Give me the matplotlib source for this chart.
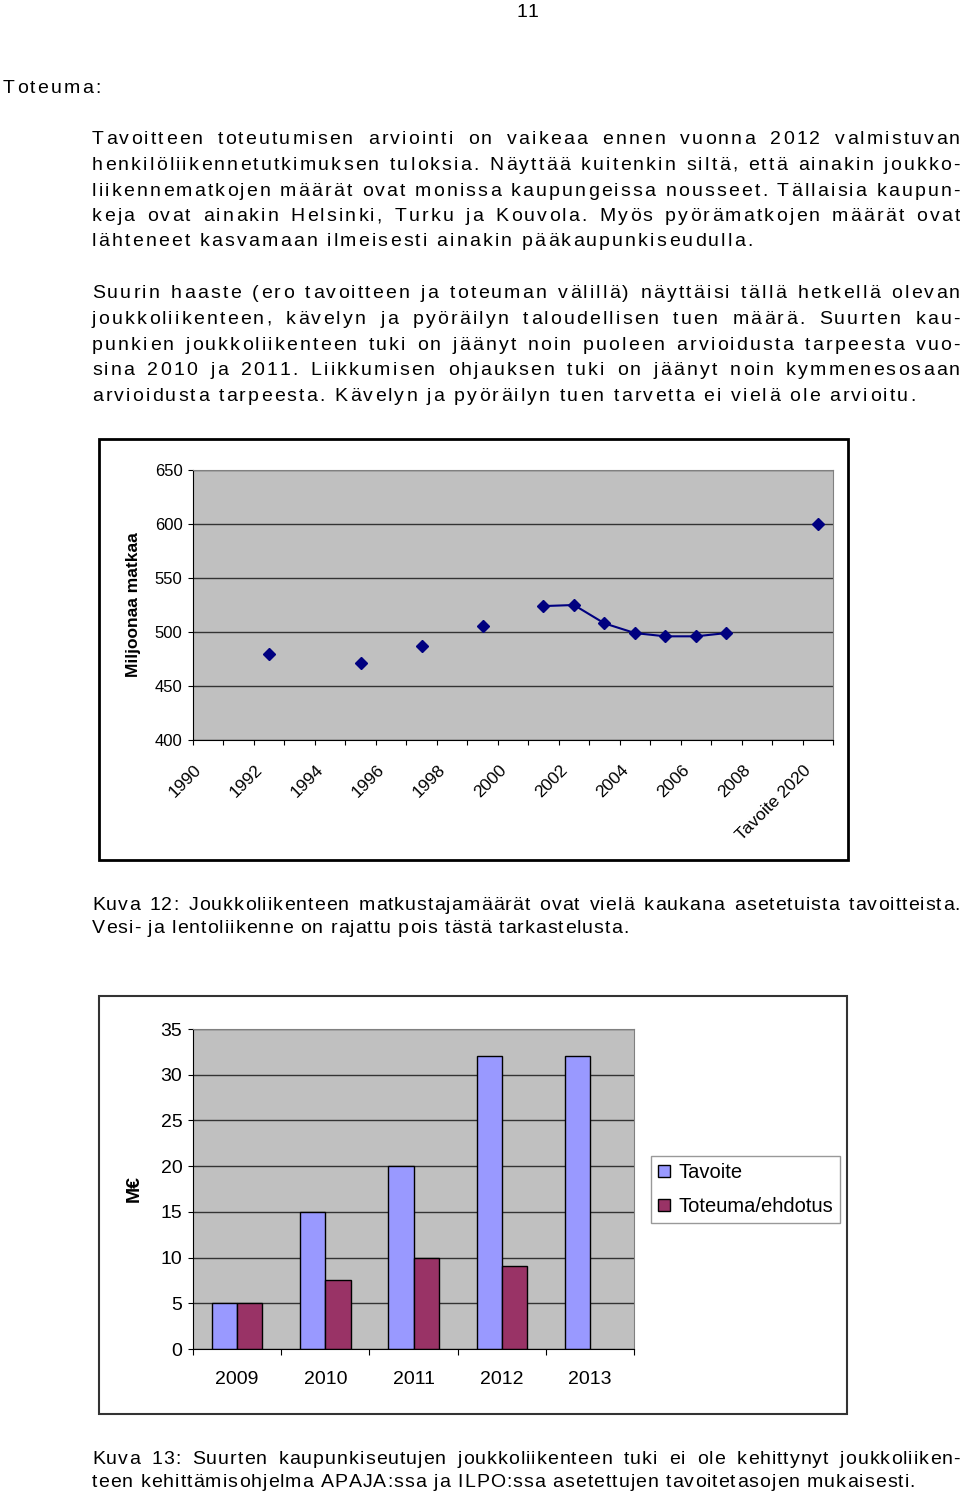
import numpy as np
import matplotlib
matplotlib.use('Agg')
import matplotlib.pyplot as plt
from matplotlib.patches import Rectangle
from matplotlib.transforms import ScaledTranslation

# tiedot
vuodet = [str(v) for v in range(1990, 2010)] + ['Tavoite 2020']
matkat = [np.nan, np.nan, 480, np.nan, np.nan, 471, np.nan, 487, np.nan, 506,
          np.nan, 524, 525, 508, 499, 496, 496, 499, np.nan, np.nan, 600]
tuki_vuodet = ['2009', '2010', '2011', '2012', '2013']
tavoite = [5, 15, 20, 32, 32]
toteuma = [5, 7.6, 10, 9.1, np.nan]

kpl1 = ["Tavoitteen toteutumisen arviointi on vaikeaa ennen vuonna 2012 valmistuvan",
        "henkilöliikennetutkimuksen tuloksia. Näyttää kuitenkin siltä, että ainakin joukko-",
        "liikennematkojen määrät ovat monissa kaupungeissa nousseet. Tällaisia kaupun-",
        "keja ovat ainakin Helsinki, Turku ja Kouvola. Myös pyörämatkojen määrät ovat",
        "lähteneet kasvamaan ilmeisesti ainakin pääkaupunkiseudulla."]
kpl2 = ["Suurin haaste (ero tavoitteen ja toteuman välillä) näyttäisi tällä hetkellä olevan",
        "joukkoliikenteen, kävelyn ja pyöräilyn taloudellisen tuen määrä. Suurten kau-",
        "punkien joukkoliikenteen tuki on jäänyt noin puoleen arvioidusta tarpeesta vuo-",
        "sina 2010 ja 2011. Liikkumisen ohjauksen tuki on jäänyt noin kymmenesosaan",
        "arvioidusta tarpeesta. Kävelyn ja pyöräilyn tuen tarvetta ei vielä ole arvioitu."]
kuva12 = ["Kuva 12: Joukkoliikenteen matkustajamäärät ovat vielä kaukana asetetuista tavoitteista.",
          "Vesi- ja lentoliikenne on rajattu pois tästä tarkastelusta."]
kuva13 = ["Kuva 13: Suurten kaupunkiseutujen joukkoliikenteen tuki ei ole kehittynyt joukkoliiken-",
          "teen kehittämisohjelma APAJA:ssa ja ILPO:ssa asetettujen tavoitetasojen mukaisesti."]

W, H = 960, 1493
plt.rcParams['font.family'] = ['Liberation Sans', 'DejaVu Sans']

fig = plt.figure(figsize=(W / 100, H / 100), dpi=100)
renderer = fig.canvas.get_renderer()


def fx(x):
    return x / W


def fy(y):
    return 1 - y / H


KOKO = 14
lev_cache = {}


def merkin_lev(c):
    if c not in lev_cache:
        t = fig.text(0, 0, 'x' + c + 'x', fontsize=KOKO)
        t2 = fig.text(0, 0, 'xx', fontsize=KOKO)
        lev_cache[c] = t.get_window_extent(renderer).width - t2.get_window_extent(renderer).width
        t.remove()
        t2.remove()
    return lev_cache[c]


def rivi(teksti, x0, x1, y, tasaa=True, vali_k=2.15):
    # harvennettu ja tasattu rivi, merkki kerrallaan (vali_k = kirjainväli px)
    sanat = teksti.split(' ')
    lev = [sum(merkin_lev(c) + vali_k for c in s) for s in sanat]
    if tasaa and len(sanat) > 1:
        vali = (x1 + vali_k - x0 - sum(lev)) / (len(sanat) - 1)
    else:
        vali = merkin_lev(' ') + vali_k
    x = x0
    for s, w in zip(sanat, lev):
        xx = x
        for c in s:
            fig.text(fx(xx), fy(y), c, fontsize=KOKO, va='baseline')
            xx += merkin_lev(c) + vali_k
        x += w + vali


rivi('11', 516, 540, 17, tasaa=False, vali_k=1)
rivi('Toteuma:', 3, 120, 93, tasaa=False)

ys1 = [144.5, 170, 195.5, 221, 246.5]
for i, r in enumerate(kpl1):
    rivi(r, 92, 960, ys1[i], tasaa=(i < len(kpl1) - 1))
ys2 = [298.5, 324, 349.5, 375, 400.5]
for i, r in enumerate(kpl2):
    rivi(r, 92, 960, ys2[i], tasaa=(i < len(kpl2) - 1))
rivi(kuva12[0], 92, 960, 910, vali_k=1.0)
rivi(kuva12[1], 92, 960, 933, tasaa=False, vali_k=1.0)
rivi(kuva13[0], 92, 960, 1464, vali_k=1.0)
rivi(kuva13[1], 92, 960, 1487, tasaa=False, vali_k=1.0)

# kaavioiden kehykset
fig.patches.append(Rectangle((fx(99), fy(860)), fx(749), 421 / H, transform=fig.transFigure,
                             fill=False, edgecolor='black', linewidth=2))
fig.patches.append(Rectangle((fx(99), fy(1414)), fx(748), 418 / H, transform=fig.transFigure,
                             fill=False, edgecolor='#333333', linewidth=1.5))

harmaa = '#C0C0C0'

# Kuva 12
ax1 = fig.add_axes([fx(193), fy(740), fx(640), 270 / H])
ax1.set_facecolor(harmaa)
x = np.arange(len(vuodet))
ax1.plot(x, matkat, color='#000080', marker='D', markersize=6.5, linewidth=1.5)
ax1.set_xlim(-0.5, len(vuodet) - 0.5)
ax1.set_ylim(400, 650)
ax1.set_yticks(range(400, 651, 50))
ax1.yaxis.grid(True, color='#333333', linewidth=1)
ax1.set_axisbelow(True)
ax1.set_xticks(np.arange(-0.5, len(vuodet)), labels=[])
ax1.set_xticks(x[::2], labels=[vuodet[i] for i in x[::2]], minor=True)
ax1.tick_params(axis='x', which='major', length=3.6, color='black', direction='out')
ax1.tick_params(axis='x', which='minor', length=0, pad=20, labelsize=12.5)
ax1.tick_params(axis='y', length=3.6, labelsize=12, pad=4)
siirto = ScaledTranslation(-9 / 100, 0, fig.dpi_scale_trans)
for lab in ax1.get_xticklabels(minor=True):
    lab.set_rotation(45)
    lab.set_ha('right')
    lab.set_va('center')
    lab.set_rotation_mode('anchor')
    lab.set_transform(lab.get_transform() + siirto)
for s in ['top', 'right']:
    ax1.spines[s].set_color('#808080')
ax1.set_ylabel('Miljoonaa matkaa', fontsize=12.5, fontweight='bold')
ax1.yaxis.set_label_coords((141 - 193) / 640, 0.5)

# Kuva 13
ax2 = fig.add_axes([fx(193), fy(1349), fx(441), 320 / H])
ax2.set_facecolor(harmaa)
xb = np.arange(len(tuki_vuodet))
lev = 1 / 3.5
ax2.bar(xb - lev / 2, tavoite, lev, color='#9999FF', edgecolor='black', linewidth=1, label='Tavoite')
ax2.bar(xb + lev / 2, toteuma, lev, color='#993366', edgecolor='black', linewidth=1, label='Toteuma/ehdotus')
ax2.set_xlim(-0.5, len(tuki_vuodet) - 0.5)
ax2.set_ylim(0, 35)
ax2.set_yticks(range(0, 36, 5))
ax2.yaxis.grid(True, color='#333333', linewidth=1)
ax2.set_axisbelow(True)
ax2.set_xticks(np.arange(-0.5, len(tuki_vuodet)), labels=[])
ax2.set_xticks(xb, labels=tuki_vuodet, minor=True)
ax2.tick_params(axis='x', which='major', length=4.5, direction='out')
ax2.tick_params(axis='x', which='minor', length=0, pad=16, labelsize=14)
ax2.tick_params(axis='y', length=3.6, labelsize=14, pad=4)
for s in ['top', 'right']:
    ax2.spines[s].set_color('#808080')
ax2.set_ylabel('M€', fontsize=14, fontweight='bold')
ax2.yaxis.set_label_coords((143 - 193) / 441, 0.5)
leg = ax2.legend(loc='upper left', bbox_to_anchor=((651 - 193) / 441, (1349 - 1156) / 320), fontsize=14.5,
                 frameon=True, fancybox=False, edgecolor='#808080', handlelength=0.6,
                 handleheight=0.6, handletextpad=0.4, borderpad=0.35, labelspacing=0.75,
                 borderaxespad=0)
leg.get_frame().set_linewidth(1)

fig.savefig('out.png', dpi=100)
